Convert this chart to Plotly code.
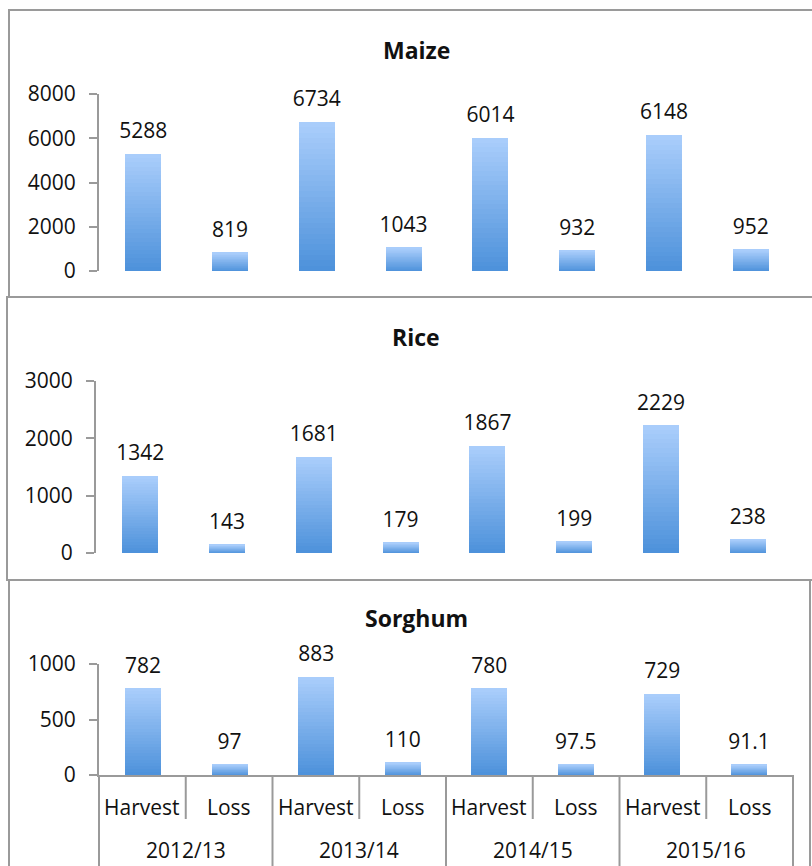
import plotly.graph_objects as go

# ---- data -------------------------------------------------------------
seasons = ["2012/13", "2013/14", "2014/15", "2015/16"]
measures = ["Harvest", "Loss"]

maize_harvest = [5288, 6734, 6014, 6148]
maize_loss = [819, 1043, 932, 952]
rice_harvest = [1342, 1681, 1867, 2229]
rice_loss = [143, 179, 199, 238]
sorghum_harvest = [782, 883, 780, 729]
sorghum_loss = [97, 110, 97.5, 91.1]

crops = ["Maize", "Rice", "Sorghum"]
y_ticks_step = [2000, 1000, 500]
y_max = [8000, 3000, 1000]

# ---- page geometry (pixels on an 812 x 866 page) -------------------------
W, H = 812, 866
FONT = "Open Sans"
FS = 21
INK = "#111111"
GRID = "#9a9a9a"
TOP_COLOR = (169, 205, 251)
BOTTOM_COLOR = (78, 146, 219)
N_SHADES = 28

# plot windows per panel: (x_left, x_right, y_zero, y_top)
windows = [
    (99, 795, 271, 94),
    (96, 792, 553, 381),
    (99, 793, 775, 664),
]
# panel boxes: (x0, y_top, x1, y_bottom)
boxes = [
    (9, 10, 830, 297),
    (7, 297, 830, 580),
    (9, 580, 810, 880),
]
title_y = [50, 337, 618]
title_x = 416
inner_label_y = 807
outer_label_y = 850
short_sep_bottom = 819
long_sep_bottom = 880


def px(x):
    return x / W


def py(y):
    return 1 - y / H


def label(v):
    return f"{v:g}"


def interleave(a, b):
    out = []
    for u, v in zip(a, b):
        out += [u, v]
    return out


x_outer = [s for s in seasons for _ in measures]
x_inner = [m for _ in seasons for m in measures]
x_multi = [x_outer, x_inner]
n_cat = len(x_inner)

series = [
    interleave(maize_harvest, maize_loss),
    interleave(rice_harvest, rice_loss),
    interleave(sorghum_harvest, sorghum_loss),
]

fig = go.Figure()

for p, vals in enumerate(series):
    xa = "x" if p == 0 else f"x{p + 1}"
    ya = "y" if p == 0 else f"y{p + 1}"
    # each bar is built from thin stacked slices that fade from dark to light
    for k in range(N_SHADES):
        t = k / (N_SHADES - 1)
        c = tuple(round(BOTTOM_COLOR[i] + (TOP_COLOR[i] - BOTTOM_COLOR[i]) * t) for i in range(3))
        fig.add_trace(go.Bar(
            x=x_multi, y=[v / N_SHADES for v in vals],
            marker=dict(color=f"rgb{c}", line=dict(width=0)),
            xaxis=xa, yaxis=ya, showlegend=False, hoverinfo="skip",
        ))
    # value labels above bars
    fig.add_trace(go.Scatter(
        x=x_multi, y=vals, mode="markers+text",
        text=[label(v) for v in vals], textposition="top center",
        textfont=dict(family=FONT, size=FS, color=INK),
        marker=dict(size=15, color="rgba(0,0,0,0)"),
        xaxis=xa, yaxis=ya, showlegend=False, cliponaxis=False,
        hovertemplate="%{y}<extra></extra>",
    ))

layout = dict(
    width=W, height=H,
    margin=dict(l=0, r=0, t=0, b=0, autoexpand=False),
    paper_bgcolor="white", plot_bgcolor="white",
    barmode="stack", bargap=0.585,
    font=dict(family=FONT, size=FS, color=INK),
    showlegend=False,
)

shapes = []
annotations = []
for p in range(3):
    xl, xr, y0, y1 = windows[p]
    xk = "xaxis" if p == 0 else f"xaxis{p + 1}"
    yk = "yaxis" if p == 0 else f"yaxis{p + 1}"
    anchor_x = "y" if p == 0 else f"y{p + 1}"
    anchor_y = "x" if p == 0 else f"x{p + 1}"
    last = p == 2
    layout[xk] = dict(
        domain=[px(xl), px(xr)], anchor=anchor_x, type="multicategory",
        automargin=False, showticklabels=False,
        showline=last, linecolor=GRID, linewidth=2,
        ticks="", showgrid=False, zeroline=False, showdividers=False,
    )
    layout[yk] = dict(
        domain=[py(y0), py(y1)], anchor=anchor_y, automargin=False,
        range=[0, y_max[p]], dtick=y_ticks_step[p], tick0=0,
        showline=True, linecolor=GRID, linewidth=2,
        ticks="outside", ticklen=8, tickwidth=2, tickcolor=GRID,
        showgrid=False, zeroline=False,
        tickfont=dict(family=FONT, size=FS, color=INK),
        ticklabelstandoff=9,
    )
    bx0, by0, bx1, by1 = boxes[p]
    shapes.append(dict(
        type="rect", xref="paper", yref="paper",
        x0=px(bx0), x1=px(bx1), y0=py(by1), y1=py(by0),
        line=dict(color=GRID, width=2), layer="below",
    ))
    annotations.append(dict(
        text=f"<b>{crops[p]}</b>", x=px(title_x), y=py(title_y[p]),
        xref="paper", yref="paper", xanchor="center", yanchor="middle",
        showarrow=False, font=dict(family=FONT, size=23, color=INK),
    ))

# two-level category labels under the Sorghum panel
for i, name in enumerate(x_inner):
    annotations.append(dict(
        text=name, x=(i + 0.5) / n_cat, y=py(inner_label_y),
        xref="x3 domain", yref="paper", xanchor="center", yanchor="middle",
        showarrow=False, font=dict(family=FONT, size=FS, color=INK),
    ))
for s, season in enumerate(seasons):
    annotations.append(dict(
        text=season, x=(2 * s + 1) / n_cat, y=py(outer_label_y),
        xref="x3 domain", yref="paper", xanchor="center", yanchor="middle",
        showarrow=False, font=dict(family=FONT, size=FS, color=INK),
    ))

# separators: short ones between Harvest and Loss, long ones between seasons
for s in range(len(seasons)):
    frac = (2 * s + 1) / n_cat
    shapes.append(dict(
        type="line", xref="x3 domain", yref="paper",
        x0=frac, x1=frac, y0=py(775), y1=py(short_sep_bottom),
        line=dict(color=GRID, width=2),
    ))
for s in range(len(seasons) + 1):
    frac = 2 * s / n_cat
    shapes.append(dict(
        type="line", xref="x3 domain", yref="paper",
        x0=frac, x1=frac, y0=py(775), y1=py(long_sep_bottom),
        line=dict(color=GRID, width=2),
    ))

layout["shapes"] = shapes
layout["annotations"] = annotations
fig.update_layout(**layout)

fig.write_html("out.html")
